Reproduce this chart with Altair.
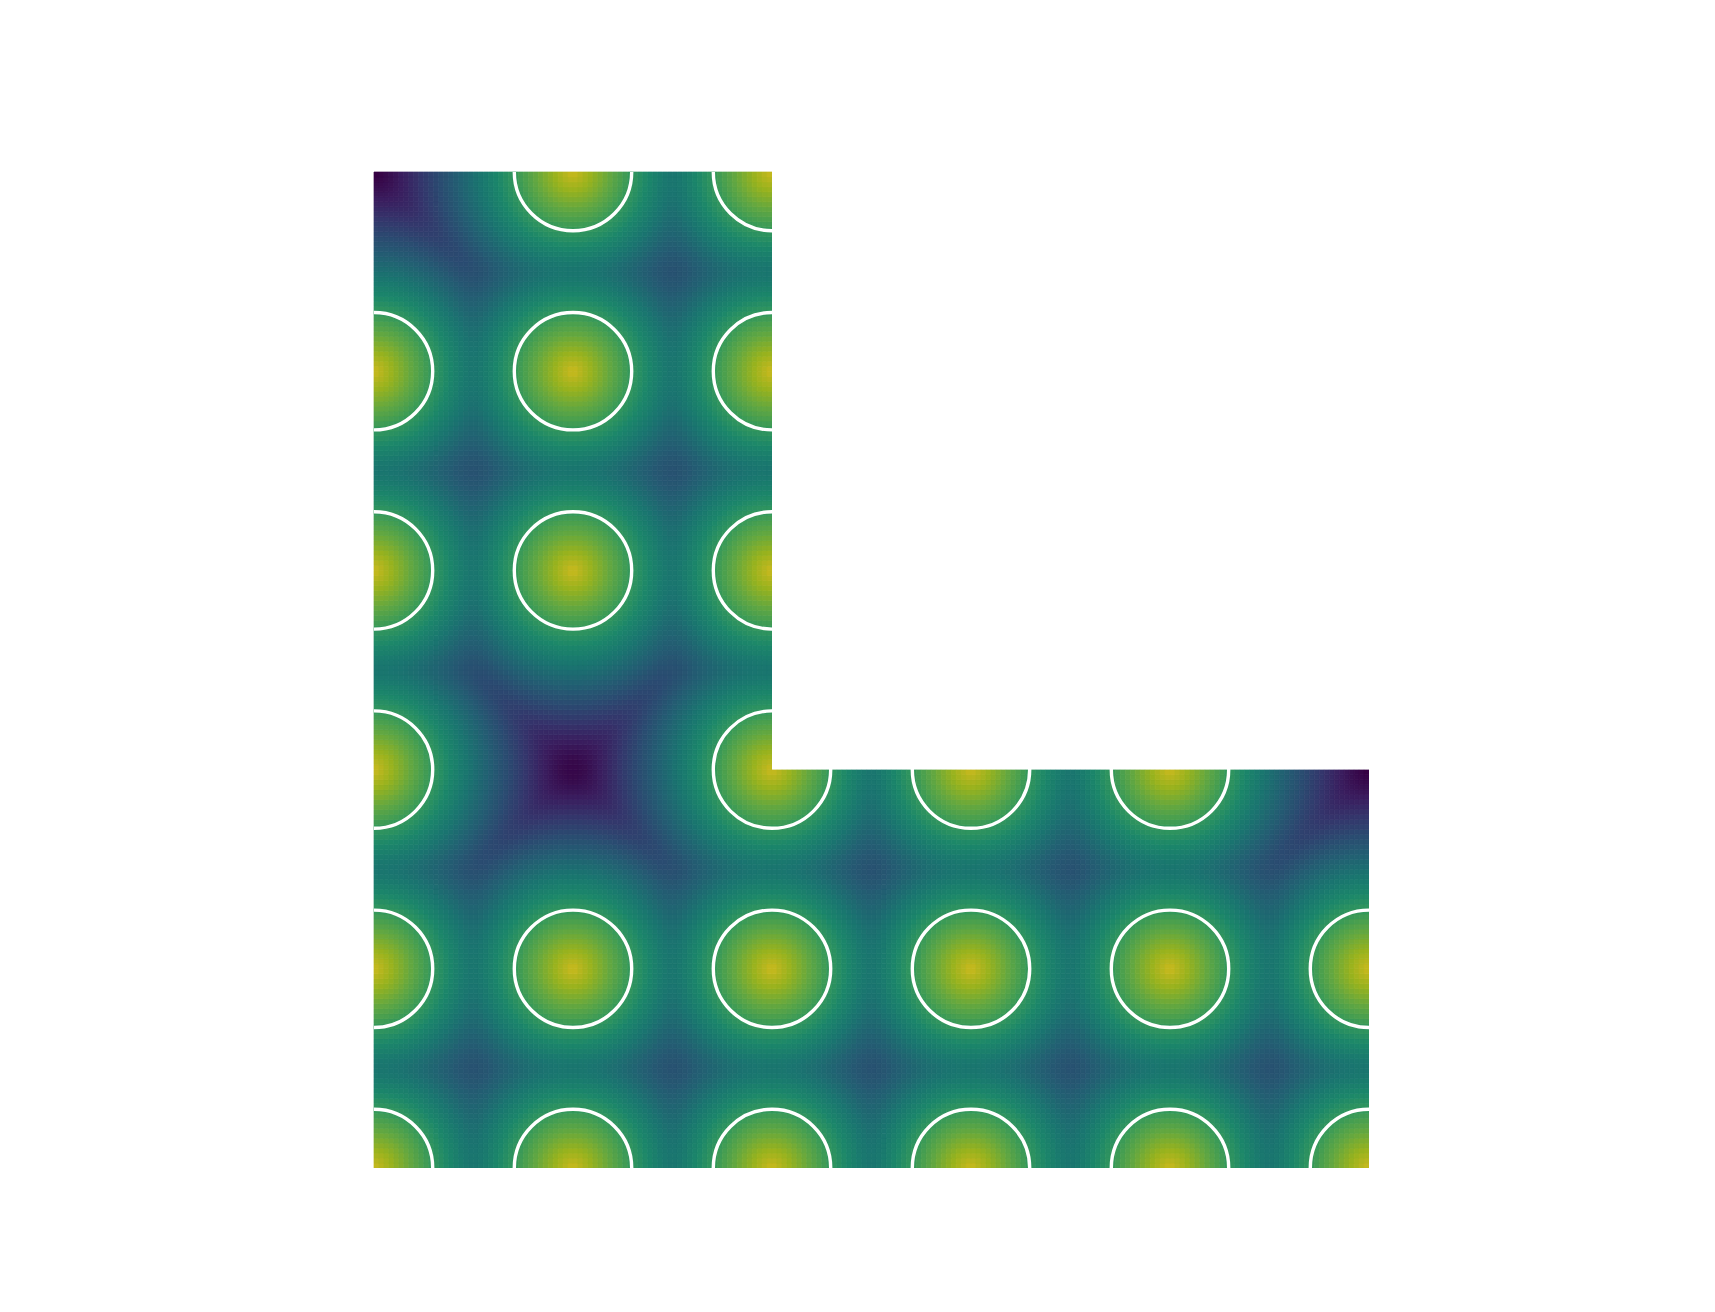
import altair as alt
import numpy as np
import pandas as pd

# ---- data ----
# L-shaped domain: outer square [0,5]x[0,5] minus the notch [2,5]x[2,5]
domain_x = [0, 5]
domain_y = [0, 5]
notch_x = [2, 5]
notch_y = [2, 5]
# lattice points where the field peaks (yellow centres)
peak_x = [0, 1, 2, 3, 4, 5,
          0, 1, 2, 3, 4, 5,
          0, 2, 3, 4,
          0, 1, 2,
          0, 1, 2,
          1, 2]
peak_y = [0, 0, 0, 0, 0, 0,
          1, 1, 1, 1, 1, 1,
          2, 2, 2, 2,
          3, 3, 3,
          4, 4, 4,
          5, 5]
blend = 0.05                  # softening of the seams between neighbouring peaks
contour_radius = 0.295        # white contour around each peak
cells = 200                   # raster resolution across the 5 units

# shaded viridis (render lighting darkens the map)
viridis = ["#440154", "#482475", "#414487", "#355f8d", "#2a788e", "#21918c",
           "#22a884", "#44bf70", "#7ad151", "#bddf26", "#fde725"]
shade = 0.8


def darken(h, f):
    r, g, b = int(h[1:3], 16), int(h[3:5], 16), int(h[5:7], 16)
    return "#%02x%02x%02x" % (round(r * f), round(g * f), round(b * f))


palette = [darken(c, shade) for c in viridis]

# ---- field: (soft) distance to the nearest peak ----
step = (domain_x[1] - domain_x[0]) / cells
cx = domain_x[0] + (np.arange(cells) + 0.5) * step
X, Y = np.meshgrid(cx, cx)
X = X.ravel()
Y = Y.ravel()
keep = ~((X > notch_x[0]) & (Y > notch_y[0]))
X, Y = X[keep], Y[keep]
px = np.array(peak_x, dtype=float)
py = np.array(peak_y, dtype=float)
d = np.sqrt((X[:, None] - px[None, :]) ** 2 + (Y[:, None] - py[None, :]) ** 2)
dmin = d.min(axis=1)
ds = dmin - blend * np.log(np.exp(-(d - dmin[:, None]) / blend).sum(axis=1))
grid = pd.DataFrame({
    "x": np.round(X - step / 2, 4),
    "y": np.round(Y - step / 2, 4),
    "v": np.round(-ds, 4),
})
vmin, vmax = float(grid["v"].min()), 0.0

peaks = pd.DataFrame({"x": peak_x, "y": peak_y})
notch = pd.DataFrame({"x": [notch_x[0]], "x2": [notch_x[1]],
                      "y": [notch_y[0]], "y2": [notch_y[1]]})

W, H = 995, 996
unit_px = W / (domain_x[1] - domain_x[0])
xs = alt.Scale(domain=domain_x, nice=False, zero=False)
ys = alt.Scale(domain=domain_y, nice=False, zero=False)
cs = alt.Scale(domain=[vmin, vmax], range=palette, interpolate="rgb", clamp=True)

heat = alt.Chart(grid).transform_calculate(
    x2=f"datum.x + {step}", y2=f"datum.y + {step}"
).mark_rect(strokeWidth=0.7).encode(
    x=alt.X("x:Q", scale=xs, axis=None),
    x2="x2:Q",
    y=alt.Y("y:Q", scale=ys, axis=None),
    y2="y2:Q",
    color=alt.Color("v:Q", scale=cs, legend=None),
    stroke=alt.Stroke("v:Q", scale=cs, legend=None),
)

circles = alt.Chart(peaks).mark_point(
    shape="circle", filled=False, color="white", strokeWidth=3.4, opacity=1,
    size=(2 * contour_radius * unit_px) ** 2, clip=True,
).encode(
    x=alt.X("x:Q", scale=xs, axis=None),
    y=alt.Y("y:Q", scale=ys, axis=None),
)

mask = alt.Chart(notch).mark_rect(color="white").encode(
    x=alt.X("x:Q", scale=xs, axis=None),
    x2="x2:Q",
    y=alt.Y("y:Q", scale=ys, axis=None),
    y2="y2:Q",
)

chart = alt.layer(heat, circles, mask).properties(
    width=W, height=H,
    autosize=alt.AutoSizeParams(type="none"),
    padding={"left": 374, "top": 172, "right": 0, "bottom": 0},
    background="white",
).configure_view(stroke=None)

chart.save("out.html", embed_options={"renderer": "svg", "actions": False})
